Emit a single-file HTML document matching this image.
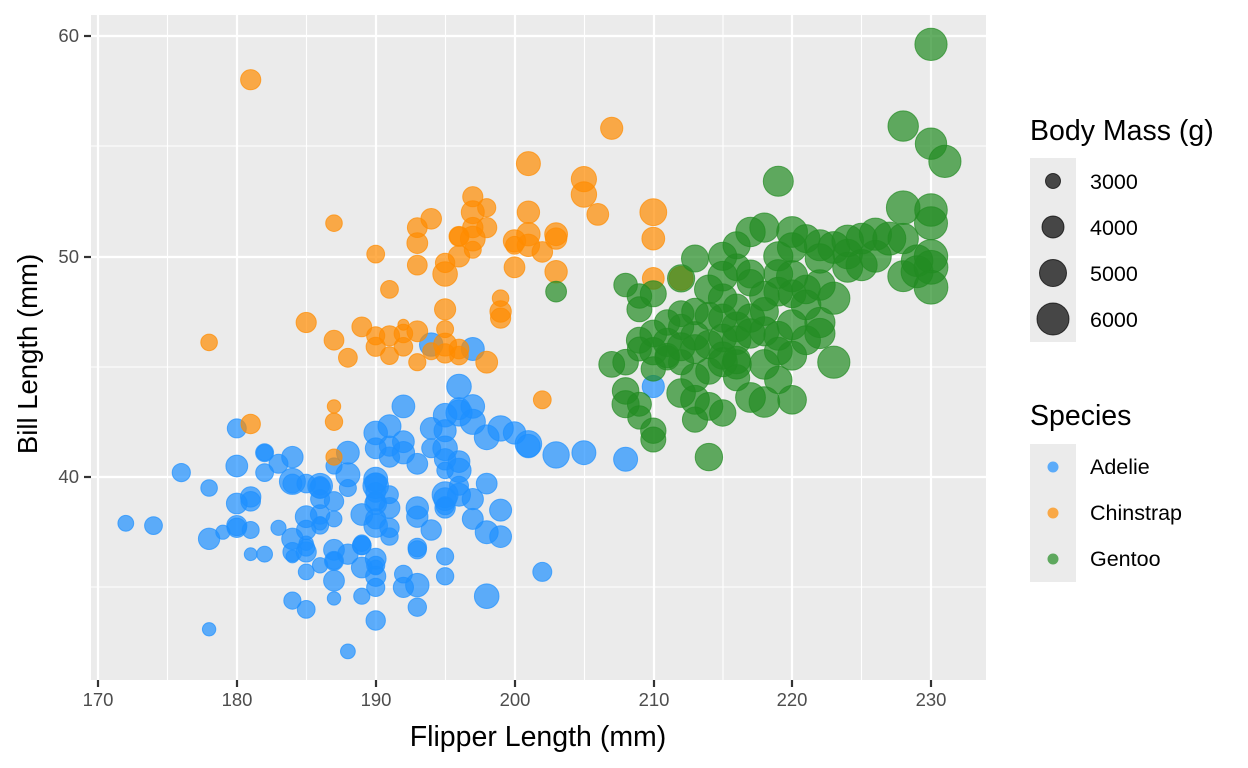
<!DOCTYPE html>
<html><head><meta charset="utf-8"><style>
html,body{margin:0;padding:0;background:#fff;}
svg{display:block;font-family:"Liberation Sans",sans-serif;}
</style></head><body>
<svg id="s" width="1248" height="768" xmlns="http://www.w3.org/2000/svg">
<rect x="91" y="15" width="895" height="665" fill="#ebebeb"/>
<g stroke="#fff" stroke-width="1.1">
<line x1="167.5" y1="15" x2="167.5" y2="680"/><line x1="306.5" y1="15" x2="306.5" y2="680"/><line x1="445.5" y1="15" x2="445.5" y2="680"/><line x1="584.5" y1="15" x2="584.5" y2="680"/><line x1="723" y1="15" x2="723" y2="680"/><line x1="861.5" y1="15" x2="861.5" y2="680"/>
<line x1="91" y1="146" x2="986" y2="146"/><line x1="91" y1="367" x2="986" y2="367"/><line x1="91" y1="587" x2="986" y2="587"/>
</g>
<g stroke="#fff" stroke-width="2.2">
<line x1="98" y1="15" x2="98" y2="680"/><line x1="237" y1="15" x2="237" y2="680"/><line x1="376" y1="15" x2="376" y2="680"/><line x1="515" y1="15" x2="515" y2="680"/><line x1="654" y1="15" x2="654" y2="680"/><line x1="792" y1="15" x2="792" y2="680"/><line x1="931" y1="15" x2="931" y2="680"/>
<line x1="91" y1="36" x2="986" y2="36"/><line x1="91" y1="257" x2="986" y2="257"/><line x1="91" y1="477" x2="986" y2="477"/>
</g>
<g id="pts"></g>
<g stroke="#333" stroke-width="2.2">
<line x1="84" y1="36" x2="91" y2="36"/><line x1="84" y1="257" x2="91" y2="257"/><line x1="84" y1="477" x2="91" y2="477"/>
<line x1="98" y1="680" x2="98" y2="687"/><line x1="237" y1="680" x2="237" y2="687"/><line x1="376" y1="680" x2="376" y2="687"/><line x1="515" y1="680" x2="515" y2="687"/><line x1="654" y1="680" x2="654" y2="687"/><line x1="792" y1="680" x2="792" y2="687"/><line x1="931" y1="680" x2="931" y2="687"/>
</g>
<g fill="#4d4d4d" font-size="18.5" text-anchor="end">
<text x="79" y="42">60</text><text x="79" y="263">50</text><text x="79" y="483">40</text>
</g>
<g fill="#4d4d4d" font-size="18.5" text-anchor="middle">
<text x="98" y="706">170</text><text x="237" y="706">180</text><text x="376" y="706">190</text><text x="515" y="706">200</text><text x="654" y="706">210</text><text x="792" y="706">220</text><text x="931" y="706">230</text>
</g>
<text x="538" y="746" font-size="28.5" text-anchor="middle" fill="#000">Flipper Length (mm)</text>
<text transform="translate(37,354) rotate(-90)" font-size="27.5" text-anchor="middle" fill="#000">Bill Length (mm)</text>
<text x="1030" y="140" font-size="28.5" fill="#000">Body Mass (g)</text>
<rect x="1030" y="158" width="46" height="184" fill="#ebebeb"/>
<g fill="#000" fill-opacity="0.7" stroke="#000" stroke-opacity="0.7">
<circle cx="1053" cy="181" r="7.5"/><circle cx="1053" cy="227" r="11"/><circle cx="1053" cy="273" r="13.5"/><circle cx="1053" cy="319" r="16"/>
</g>
<g font-size="21.5" fill="#000"><text x="1090" y="189">3000</text><text x="1090" y="235">4000</text><text x="1090" y="281">5000</text><text x="1090" y="327">6000</text></g>
<text x="1030" y="425" font-size="28.5" fill="#000">Species</text>
<rect x="1030" y="444" width="46" height="138" fill="#ebebeb"/>
<circle cx="1053" cy="467" r="5.5" fill="#1E90FF" fill-opacity="0.7"/>
<circle cx="1053" cy="513" r="5.5" fill="#FF8C00" fill-opacity="0.7"/>
<circle cx="1053" cy="559" r="5.5" fill="#228B22" fill-opacity="0.7"/>
<g font-size="21.5" fill="#000"><text x="1090" y="474">Adelie</text><text x="1090" y="520">Chinstrap</text><text x="1090" y="566">Gentoo</text></g>
</svg>
<script>
var A=[[181,39.1,3750],[186,39.5,3800],[195,40.3,3250],[193,36.7,3450],[190,39.3,3650],[181,38.9,3625],[195,39.2,4675],[193,34.1,3475],[190,42,4250],[186,37.8,3300],[180,37.8,3700],[182,41.1,3200],[191,38.6,3800],[198,34.6,4400],[185,36.6,3700],[195,38.7,3450],[197,42.5,4500],[184,34.4,3325],[194,46,4200],[174,37.8,3400],[180,37.7,3600],[189,35.9,3800],[185,38.2,3950],[180,38.8,3800],[187,35.3,3800],[183,40.6,3550],[187,40.5,3200],[172,37.9,3150],[180,40.5,3950],[178,39.5,3250],[178,37.2,3900],[188,39.5,3300],[184,40.9,3900],[195,36.4,3325],[196,39.2,4150],[190,38.8,3950],[180,42.2,3550],[181,37.6,3300],[184,39.8,4650],[182,36.5,3150],[195,40.8,3900],[186,36,3100],[196,44.1,4400],[185,37,3000],[190,39.6,4600],[182,41.1,3425],[179,37.5,2975],[190,36,3450],[191,42.3,4150],[186,39.6,3500],[188,40.1,4300],[190,35,3450],[200,42,4050],[187,34.5,2900],[191,41.4,3700],[186,39,3550],[193,40.6,3800],[181,36.5,2850],[194,37.6,3750],[185,35.7,3150],[195,41.3,4400],[185,37.6,3600],[192,41.1,4050],[184,36.4,2850],[192,41.6,3950],[195,35.5,3350],[188,41.1,4100],[190,35.9,3050],[198,41.8,4450],[190,33.5,3600],[190,39.7,3900],[196,39.6,3550],[197,45.8,4150],[190,35.5,3700],[195,42.8,4250],[191,40.9,3700],[184,37.2,3900],[187,36.2,3550],[195,42.1,4000],[189,34.6,3200],[196,42.9,4700],[187,36.7,3800],[193,35.1,4200],[191,37.3,3350],[194,41.3,3550],[190,36.3,3800],[189,36.9,3500],[189,38.3,3950],[190,38.9,3600],[202,35.7,3550],[205,41.1,4300],[185,34,3400],[186,39.6,4450],[187,36.2,3300],[208,40.8,4300],[190,38.1,3700],[196,40.3,4350],[178,33.1,2900],[192,43.2,4100],[192,35,3725],[203,41,4725],[183,37.7,3075],[190,37.8,4250],[186,37.9,2925],[184,39.7,3550],[195,38.6,3750],[193,38.2,3900],[187,38.1,3175],[201,41.5,4775],[197,38.1,3825],[210,44.1,4000],[199,37.3,3950],[198,39.7,3800],[199,42.2,4550],[199,38.5,3975],[196,43.1,3975],[176,40.2,3450],[188,32.1,3050],[191,39.2,3400],[197,39,3850],[184,36.6,3550],[182,40.2,3400],[196,40.7,3950],[190,39.9,4300],[193,36.8,3500],[189,36.9,3500],[191,37.7,3600],[194,42.2,3950],[187,38.9,3600],[185,39.7,3500],[192,35.6,3400],[188,36.5,3750],[190,41.3,3800],[195,39,4100],[198,37.5,4150],[201,41.4,4200],[197,43.2,4250],[185,36.8,3300],[193,38.6,4050],[186,38.3,3600],[189,37,3250]];
var C=[[192,46.5,3500],[196,50,3900],[193,51.3,3650],[188,45.4,3525],[197,52.7,3725],[198,45.2,3950],[178,46.1,3250],[197,51.3,3750],[195,46,4150],[198,51.3,3700],[193,46.6,3800],[194,51.7,3775],[185,47,3700],[201,52,4050],[190,45.9,3575],[201,50.5,4050],[197,50.3,3300],[181,58,3700],[190,46.4,3450],[195,49.2,4400],[181,42.4,3600],[191,48.5,3400],[187,43.2,2900],[193,50.6,3800],[195,46.7,3300],[197,52,4150],[200,50.5,3400],[200,49.5,3800],[191,46.4,3700],[205,52.8,4550],[187,40.9,3200],[201,54.2,4300],[187,42.5,3350],[203,51,4100],[195,49.7,3600],[199,47.5,3900],[195,47.6,3850],[210,52,4800],[192,46.9,2700],[205,53.5,4500],[210,49,3950],[187,46.2,3650],[196,50.9,3550],[196,45.5,3500],[196,50.9,3675],[197,50.8,4450],[190,50.1,3400],[193,49.6,3650],[199,48.1,3250],[187,51.5,3250],[202,43.5,3400],[207,55.8,4000],[212,49,4300],[202,50.2,3775],[193,45.2,3325],[210,50.8,4100],[206,51.9,3950],[203,49.3,4050],[195,45.6,3600],[189,46.8,3650],[191,45.5,3400],[201,51,4200],[194,45.7,3300],[198,52.2,3450],[203,50.8,3900],[196,45.8,3650],[192,45.9,3500],[200,50.7,4050],[199,47.2,3700]];
var Gp=[[203,48.4],[208,48.7],[209,48.2],[209,47.6],[210,48.3],[208,45.2],[207,45.1],[208,43.9],[208,43.3],[209,42.7],[209,43.3],[210,41.7],[210,42.1],[214,40.9],[209,46.2],[210,46.5],[210,45.7],[211,46.1],[211,45.4],[212,45.2],[212,47.4],[213,47.5],[213,49.9],[212,49],[214,46],[213,44.5],[213,43.5],[213,42.6],[215,42.9],[214,44.8],[215,45.5],[215,46.3],[215,47.2],[215,48.1],[216,45.1],[216,46.8],[216,47.7],[216,49.5],[216,50.5],[217,49.2],[217,47.2],[218,46.6],[218,45.1],[217,43.6],[218,43.4],[219,44.4],[219,45.7],[220,43.5],[219,48.4],[219,50],[218,51.3],[219,53.4],[220,51.1],[220,49.1],[220,48.3],[221,48.5],[221,46.2],[220,45.5],[222,47],[222,48.7],[222,50.5],[223,50.4],[223,45.2],[221,50.8],[224,50.1],[224,49.5],[225,50.8],[225,49.6],[226,50],[226,51],[227,50.8],[228,52.2],[228,50.8],[228,49.1],[229,49.8],[229,49.3],[230,52.1],[230,51.5],[230,50],[230,49.5],[230,48.6],[228,55.9],[230,55.1],[231,54.3],[230,59.6],[214,47.3],[216,46.2],[217,46.5],[215,45.2],[213,45.8],[211,45.5],[212,46.8],[218,47.5],[219,46.4],[222,46.5],[215,50],[217,51.1],[214,48.5],[212,43.8],[216,44.5],[210,44.9],[211,47],[219,49.2],[221,47.8],[220,46.9],[224,50.7],[213,46.4],[215,49.1],[217,48.8],[209,45.8],[222,49.9],[216,45.3],[220,50.4],[214,43.2],[218,48.2],[212,45.9],[223,48.1]];
function r(m){return 0.9*Math.sqrt(Math.max(30,64+0.087*(m-3000)));}
var sx=function(f){return 98+(f-170)*13.883;}, sy=function(b){return 477-(b-40)*22.07;};
var out='';
function add(p,col,m){out+='<circle cx="'+sx(p[0]).toFixed(1)+'" cy="'+sy(p[1]).toFixed(1)+'" r="'+r(m).toFixed(1)+'" fill="'+col+'" fill-opacity="0.7" stroke="'+col+'" stroke-opacity="0.7" stroke-width="1"/>';}
A.forEach(function(p){add(p,'#1E90FF',p[2]);});
C.forEach(function(p){add(p,'#FF8C00',p[2]);});
Gp.forEach(function(p,i){var m=4300+(p[0]-205)*70+((i*37)%9-4)*90;add(p,'#228B22',Math.min(6300,m));});
document.getElementById('pts').innerHTML=out;
</script>
</body></html>
